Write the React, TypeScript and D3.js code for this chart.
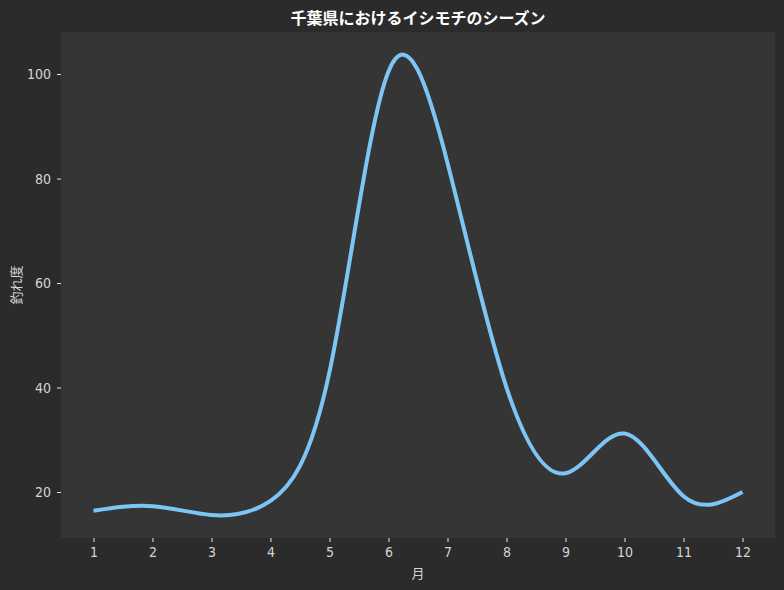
import { useEffect, useRef } from 'react'
import * as d3 from 'd3'

const months = [1, 2, 3, 4, 5, 6, 7, 8, 9, 10, 11, 12]
const catchScore = [16.4, 17.3, 15.6, 18.3, 43, 100.5, 83, 40, 23.6, 31.2, 19.2, 20]
const yTicks = [20, 40, 60, 80, 100]

const title = '千葉県におけるイシモチのシーズン'
const xLabel = '月'
const yLabel = '釣れ度'

const FONT = '"Noto Sans CJK JP", "Noto Sans", sans-serif'
const TICK_FONT = '"DejaVu Sans Condensed", "Liberation Sans Narrow", sans-serif'

export default function App() {
  const svgRef = useRef<SVGSVGElement>(null)

  useEffect(() => {
    if (!svgRef.current) return
    const svg = d3.select(svgRef.current)
    svg.selectAll('*').remove()

    const width = 784
    const height = 590
    const margin = { top: 32, right: 9, bottom: 52, left: 61 }
    const w = width - margin.left - margin.right
    const h = height - margin.top - margin.bottom

    svg.append('rect').attr('width', width).attr('height', height).attr('fill', '#2b2b2b')

    const g = svg.append('g').attr('transform', `translate(${margin.left},${margin.top})`)
    g.append('rect').attr('width', w).attr('height', h).attr('fill', '#353535')

    const x = d3.scaleLinear().domain([0.45, 12.55]).range([0, w])
    const y = d3.scaleLinear().domain([11.2, 108.05]).range([h, 0])

    const line = d3
      .line<number>()
      .x((_, i) => x(months[i]))
      .y((d) => y(d))
      .curve(d3.curveNatural)

    g.append('path')
      .datum(catchScore)
      .attr('fill', 'none')
      .attr('stroke', '#7cc5f5')
      .attr('stroke-width', 4)
      .attr('stroke-linecap', 'butt')
      .attr('d', line)

    const xAxis = g
      .append('g')
      .attr('transform', `translate(0,${h})`)
      .call(d3.axisBottom(x).tickValues(months).tickFormat(d3.format('d')).tickSize(4).tickPadding(5))
    const yAxis = g
      .append('g')
      .call(d3.axisLeft(y).tickValues(yTicks).tickSize(4).tickPadding(6))

    for (const ax of [xAxis, yAxis]) {
      ax.select('.domain').remove()
      ax.selectAll('line').attr('stroke', '#e8e8e8')
      ax.selectAll('text')
        .attr('fill', '#d4d4d4')
        .attr('font-size', 14)
        .attr('font-weight', 300)
        .attr('font-family', TICK_FONT)
    }

    svg.append('text')
      .attr('x', margin.left + w / 2)
      .attr('y', 24)
      .attr('text-anchor', 'middle')
      .attr('fill', '#ffffff')
      .attr('font-size', 16)
      .attr('font-weight', 'bold')
      .attr('font-family', FONT)
      .text(title)

    svg.append('text')
      .attr('x', margin.left + w / 2)
      .attr('y', 578)
      .attr('text-anchor', 'middle')
      .attr('fill', '#d4d4d4')
      .attr('font-size', 13)
      .attr('font-family', FONT)
      .text(xLabel)

    svg.append('text')
      .attr('transform', `translate(21,${margin.top + h / 2}) rotate(-90)`)
      .attr('text-anchor', 'middle')
      .attr('fill', '#d4d4d4')
      .attr('font-size', 13)
      .attr('font-family', FONT)
      .text(yLabel)
  }, [])

  return (
    <svg
      ref={svgRef}
      width={784}
      height={590}
      style={{ position: 'absolute', left: 0, top: 0, display: 'block' }}
    />
  )
}
